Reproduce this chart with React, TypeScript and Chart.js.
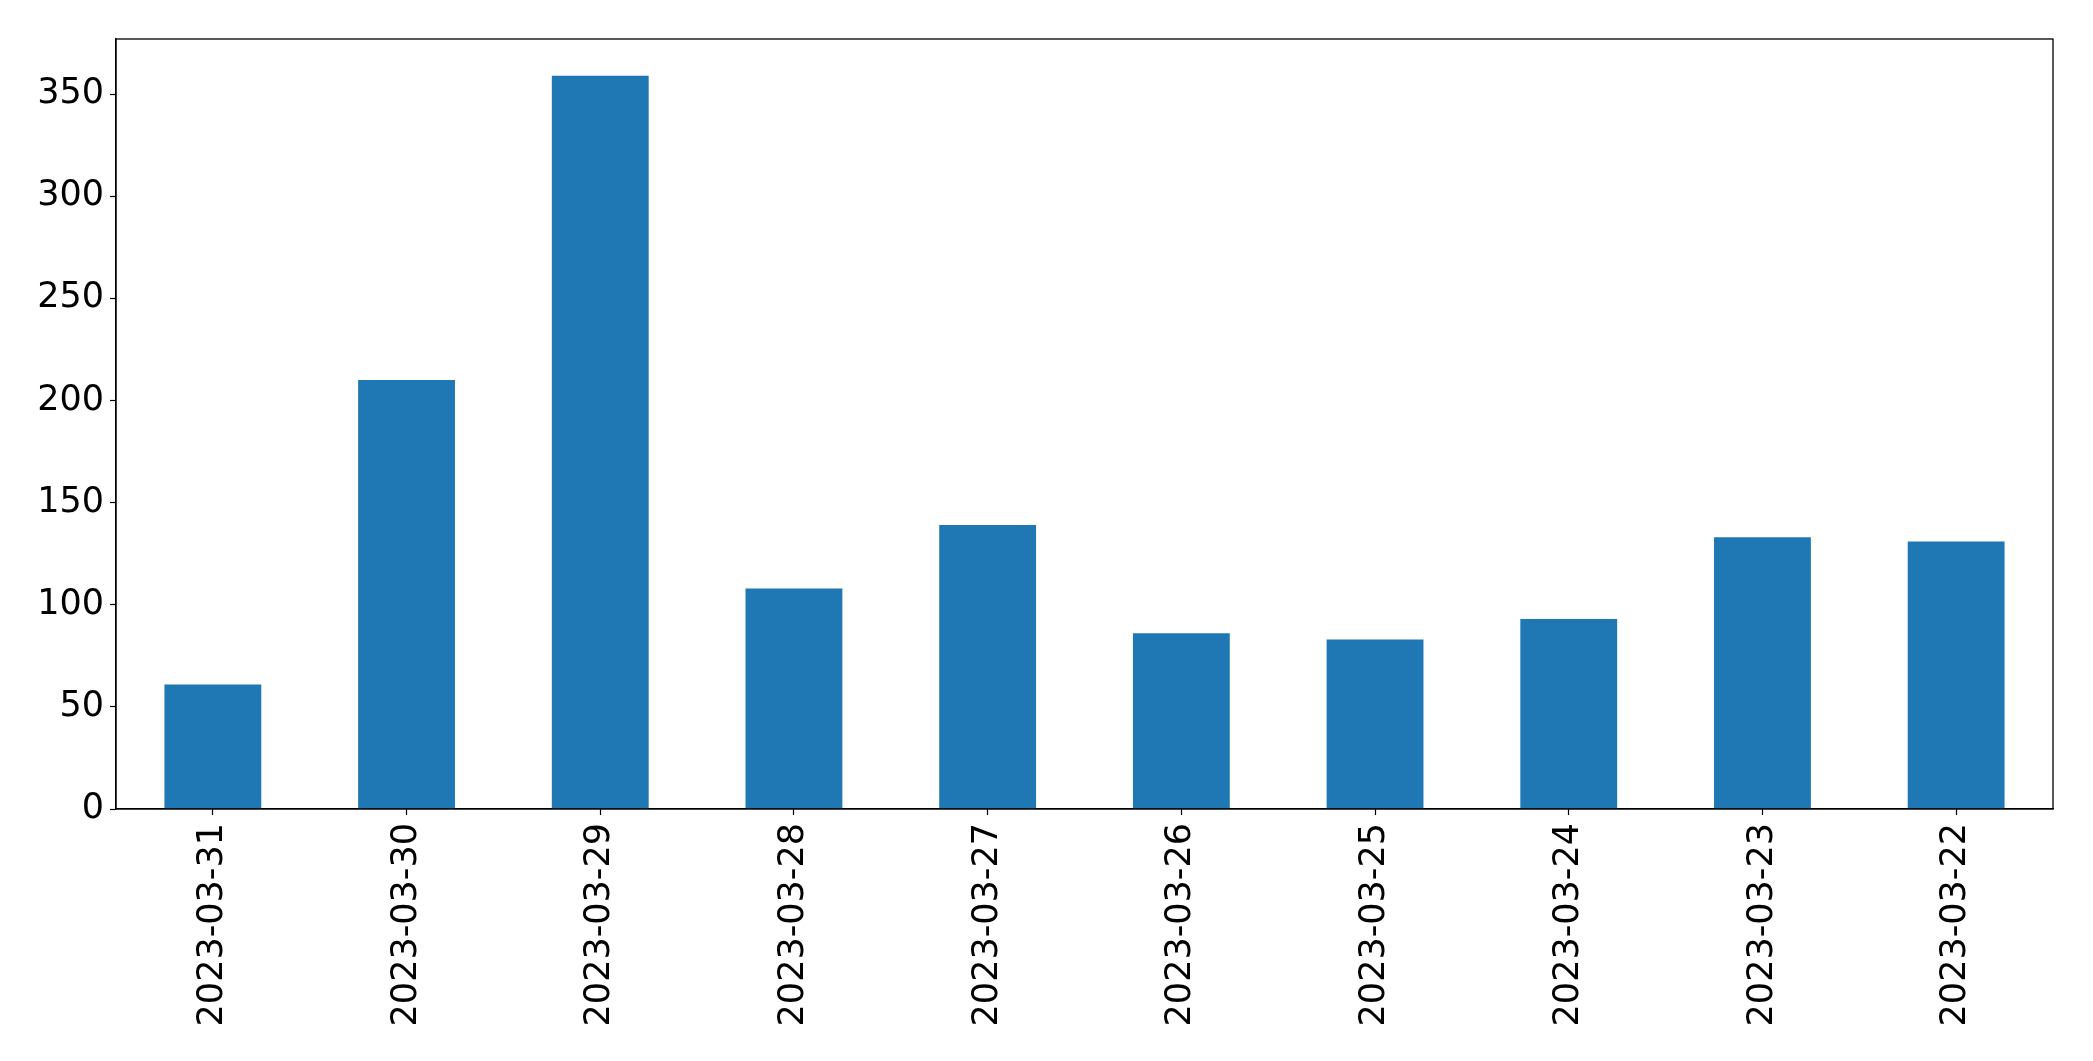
import React, { useEffect, useRef } from "react";
import { Chart, registerables } from "chart.js";

Chart.register(...registerables);

const categories = [
  "2023-03-31",
  "2023-03-30",
  "2023-03-29",
  "2023-03-28",
  "2023-03-27",
  "2023-03-26",
  "2023-03-25",
  "2023-03-24",
  "2023-03-23",
  "2023-03-22",
];
const values = [61, 210, 359, 108, 139, 86, 83, 93, 133, 131];
const yTicks = [0, 50, 100, 150, 200, 250, 300, 350];

const W = 2093;
const H = 1061;
const PLOT_LEFT = 116;
const PLOT_RIGHT = 2053;
const PLOT_TOP = 39;
const PLOT_BOTTOM = 809;

const framePlugin = {
  id: "frame",
  afterDatasetsDraw(chart: any) {
    const { ctx, chartArea } = chart;
    ctx.save();
    ctx.strokeStyle = "#000";
    ctx.lineWidth = 1.3;
    ctx.strokeRect(
      chartArea.left,
      chartArea.top,
      chartArea.right - chartArea.left,
      chartArea.bottom - chartArea.top
    );
    ctx.restore();
  },
};

export default function App() {
  const ref = useRef<HTMLCanvasElement | null>(null);

  useEffect(() => {
    document.body.style.margin = "0";
    const canvas = ref.current;
    if (!canvas) return;
    const chart = new Chart(canvas, {
      type: "bar",
      data: {
        labels: categories,
        datasets: [
          {
            data: values,
            backgroundColor: "#1f77b4",
            borderWidth: 0,
            barPercentage: 0.5,
            categoryPercentage: 1.0,
          },
        ],
      },
      options: {
        responsive: false,
        animation: false,
        devicePixelRatio: 1,
        layout: {
          padding: { top: PLOT_TOP, right: W - PLOT_RIGHT, left: 0, bottom: 0 },
        },
        plugins: {
          legend: { display: false },
          tooltip: { enabled: false },
        },
        scales: {
          x: {
            grid: {
              display: true,
              offset: false,
              drawOnChartArea: false,
              drawTicks: true,
              tickLength: 6,
              tickColor: "#000",
              tickWidth: 1.2,
            },
            border: { display: true, color: "#000", width: 1.3 },
            ticks: {
              color: "#000",
              font: { family: "DejaVu Sans", size: 35 },
              minRotation: 90,
              maxRotation: 90,
              padding: 8,
              autoSkip: false,
            },
            afterFit(scale: any) {
              scale.height = H - PLOT_BOTTOM;
            },
          },
          y: {
            min: 0,
            max: 377,
            afterBuildTicks(scale: any) {
              scale.ticks = yTicks.map((v) => ({ value: v }));
            },
            grid: {
              display: true,
              drawOnChartArea: false,
              drawTicks: true,
              tickLength: 6,
              tickColor: "#000",
              tickWidth: 1.2,
            },
            border: { display: true, color: "#000", width: 1.3 },
            ticks: {
              color: "#000",
              font: { family: "DejaVu Sans", size: 35 },
              padding: 6,
            },
            afterFit(scale: any) {
              scale.width = PLOT_LEFT;
            },
          },
        },
      },
      plugins: [framePlugin],
    });
    return () => chart.destroy();
  }, []);

  return (
    <div style={{ position: "absolute", left: 0, top: 0, width: W, height: H, background: "#fff" }}>
      <canvas ref={ref} width={W} height={H} style={{ width: W, height: H, display: "block" }} />
    </div>
  );
}
